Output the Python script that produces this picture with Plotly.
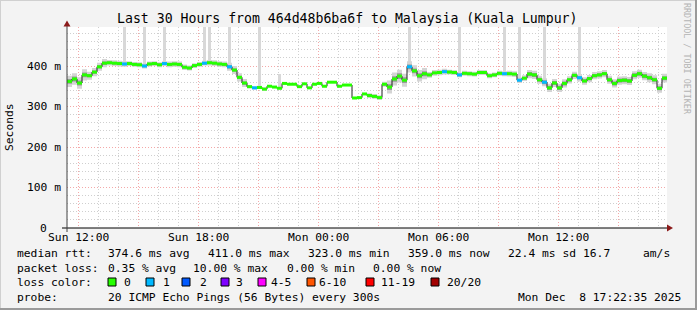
import plotly.graph_objects as go
from datetime import datetime, timedelta

TITLE = "Last 30 Hours from 464d48b6ba6f to Malaysia (Kuala Lumpur)"
START = datetime(2025, 12, 7, 11, 25)
STEP_MIN = 15
SPAN_H = 30

# median rtt per 15-minute step (ms)
median_ms = [
    362, 368, 358, 378, 376, 385, 398, 407, 408, 407,
    406, 405, 406, 404, 403, 400, 405, 406, 403, 406,
    404, 405, 404, 397, 395, 401, 404, 407, 408, 407,
    405, 404, 398, 390, 372, 358, 349, 346, 347, 343,
    350, 348, 345, 357, 355, 355, 349, 356, 346, 355,
    357, 350, 360, 360, 350, 353, 353, 321, 322, 331,
    327, 325, 322, 355, 348, 368, 375, 365, 398, 388,
    376, 381, 378, 383, 384, 386, 385, 384, 378, 382,
    381, 380, 384, 384, 376, 378, 382, 381, 381, 380,
    365, 370, 380, 378, 366, 360, 346, 358, 346, 357,
    366, 377, 371, 363, 369, 376, 378, 381, 366, 357,
    364, 365, 363, 377, 381, 375, 371, 366, 345, 370,
]

# lost pings (of 20) per step
loss_pings = [
    0, 0, 0, 0, 0, 0, 0, 0, 0, 0,
    0, 1, 0, 0, 0, 1, 0, 0, 0, 1,
    0, 0, 0, 0, 0, 0, 0, 1, 0, 0,
    0, 0, 1, 0, 0, 0, 0, 1, 0, 0,
    0, 0, 0, 0, 0, 0, 0, 0, 0, 0,
    0, 0, 0, 0, 0, 0, 0, 0, 0, 0,
    0, 0, 0, 0, 0, 0, 0, 0, 1, 0,
    0, 0, 0, 0, 0, 1, 0, 0, 1, 0,
    0, 0, 0, 0, 0, 0, 0, 1, 0, 0,
    1, 0, 0, 0, 0, 1, 0, 0, 0, 0,
    0, 0, 1, 0, 0, 0, 0, 0, 0, 0,
    0, 0, 0, 0, 0, 0, 0, 0, 0, 0,
]

# smoke half-widths per hour (ms)
smoke_outer_hourly = [14, 10, 7, 6, 6, 7, 6, 7, 10, 4,
                      1, 1, 1, 1, 1, 6, 16, 14, 7, 6,
                      6, 6, 7, 10, 10, 9, 9, 10, 10, 11]
smoke_inner_hourly = [6, 4, 3, 3, 3, 3, 3, 3, 4, 2,
                      0, 0, 0, 0, 0, 3, 7, 6, 3, 3,
                      3, 3, 3, 5, 5, 4, 4, 5, 5, 5]

# tall max-ping spikes: step index and top value (ms)
spike_idx = [11, 15, 19, 27, 28, 32, 38, 42, 68, 78, 87, 90, 95, 102]
spike_top_ms = [497, 497, 497, 497, 497, 497, 497, 380, 497, 497, 497, 497, 497, 497]

y_tickvals = [100, 200, 300, 400]
y_ticktext = ["100 m", "200 m", "300 m", "400 m"]
y_zero_label = "0"
x_tick_times = ["2025-12-07 12:00", "2025-12-07 15:00", "2025-12-07 18:00", "2025-12-07 21:00",
                "2025-12-08 00:00", "2025-12-08 03:00", "2025-12-08 06:00", "2025-12-08 09:00",
                "2025-12-08 12:00", "2025-12-08 15:00"]
x_tick_labels = ["Sun 12:00", "", "Sun 18:00", "", "Mon 00:00", "", "Mon 06:00", "", "Mon 12:00", ""]

loss_labels = ["0", "1", "2", "3", "4-5", "6-10", "11-19", "20/20"]
loss_upper = [0, 1, 2, 3, 5, 10, 19, 20]
loss_colors = ["#26ff00", "#00b8ff", "#0059ff", "#7e00ff", "#ff00ff", "#ff5500", "#ff0000", "#a10000"]

stats_rtt = ["374.6 ms avg", "411.0 ms max", "323.0 ms min", "359.0 ms now", "22.4 ms sd", "16.7", "am/s"]
stats_loss = ["0.35 % avg", "10.00 % max", "0.00 % min", "0.00 % now"]
probe_text = "20 ICMP Echo Pings (56 Bytes) every 300s"
stamp_text = "Mon Dec  8 17:22:35 2025"

# ---------------------------------------------------------------
n = len(median_ms)
edges = [START + timedelta(minutes=STEP_MIN * i) for i in range(n + 1)]
steps_per_hour = 60 // STEP_MIN
outer = [smoke_outer_hourly[i // steps_per_hour] for i in range(n)]
inner = [smoke_inner_hourly[i // steps_per_hour] for i in range(n)]

def ext(a):
    return list(a) + [a[-1]]

MONO = "DejaVu Sans Mono"
fig = go.Figure()

# spikes
spike_x = [edges[i] + timedelta(minutes=STEP_MIN / 2) for i in spike_idx]
spike_base = [median_ms[i] for i in spike_idx]
fig.add_trace(go.Bar(x=spike_x, y=[t - b for t, b in zip(spike_top_ms, spike_base)], base=spike_base,
                     width=7.5 * 60 * 1000, marker=dict(color="#d8d8d8", line=dict(width=0)),
                     hoverinfo="skip", showlegend=False))

# smoke bands
for half, col in ((outer, "#d4d4d4"), (inner, "#9a9a9a")):
    lo = [m - h for m, h in zip(median_ms, half)]
    hi = [m + h for m, h in zip(median_ms, half)]
    fig.add_trace(go.Scatter(x=edges, y=ext(lo), mode="lines", line=dict(width=0, shape="hv"),
                             hoverinfo="skip", showlegend=False))
    fig.add_trace(go.Scatter(x=edges, y=ext(hi), mode="lines", line=dict(width=0, shape="hv"),
                             fill="tonexty", fillcolor=col, hoverinfo="skip", showlegend=False))

# thin dark median line
fig.add_trace(go.Scatter(x=edges, y=ext(median_ms), mode="lines",
                         line=dict(color="#202020", width=1, shape="hv"),
                         hoverinfo="skip", showlegend=False))

# loss-coloured median segments
def bucket(v):
    for k, up in enumerate(loss_upper):
        if v <= up:
            return k
    return len(loss_upper) - 1

for k, col in enumerate(loss_colors):
    xs, ys = [], []
    for i in range(n):
        if bucket(loss_pings[i]) == k:
            xs += [edges[i], edges[i + 1], None]
            ys += [median_ms[i], median_ms[i], None]
    if xs:
        fig.add_trace(go.Scatter(x=xs, y=ys, mode="lines", line=dict(color=col, width=3),
                                 hoverinfo="skip", showlegend=False))

# ---------------------------------------------------------------
L, R, T, B = 67, 667, 27, 228
def X(p):
    return (p - L) / (R - L)
def Y(p):
    return (B - p) / (B - T)

ann = []
def txt(s, x, y, size=11.3, color="#000000", anchor="left", angle=0):
    ann.append(dict(text=s, x=X(x), y=Y(y), xref="paper", yref="paper", showarrow=False,
                    xanchor=anchor, yanchor="middle", textangle=angle, borderpad=0,
                    font=dict(family=MONO, size=size, color=color)))

txt(TITLE, 347, 18, size=13.2, anchor="center")
txt("Seconds", 10, 127, angle=-90, anchor="center")
txt("RRDTOOL / TOBI OETIKER", 687, 59, size=8.4, color="#b4b4b4", angle=90, anchor="center")
# zero label of the y axis (rrdtool pads it, so it sits left of the other labels)
ann.append(dict(text=y_zero_label, x=X(47.5), y=0, xref="paper", yref="y", showarrow=False,
                xanchor="right", yanchor="middle", borderpad=0,
                font=dict(family=MONO, size=11.3, color="#000000")))

txt("median rtt:", 16, 253)
for s, x in zip(stats_rtt, [107, 207, 307, 407, 507, 582, 642]):
    txt(s, x, 253)
txt("packet loss:", 16, 268)
for s, x in zip(stats_loss, [107, 192, 286, 372]):
    txt(s, x, 268)
txt("loss color:", 16, 282)
sw_x = [108, 146, 182, 221, 258, 307, 366, 431]
lab_x = [123, 162, 199, 235, 270, 318, 380, 446]
shapes = []
for s, c, sx, lx in zip(loss_labels, loss_colors, sw_x, lab_x):
    shapes.append(dict(type="rect", xref="paper", yref="paper", x0=X(sx), x1=X(sx + 8),
                       y0=Y(286), y1=Y(278), fillcolor=c, line=dict(color="#000000", width=1)))
    txt(s, lx, 282)
txt("probe:", 16, 297)
txt(probe_text, 107, 297)
txt(stamp_text, 682, 297, anchor="right")

# axes lines and arrows
shapes += [
    dict(type="line", xref="paper", yref="paper", x0=X(62), x1=X(669), y0=Y(228), y1=Y(228),
         line=dict(color="#000000", width=1)),
    dict(type="line", xref="paper", yref="paper", x0=X(67), x1=X(67), y0=Y(232), y1=Y(22),
         line=dict(color="#404040", width=1)),
    dict(type="path", xref="paper", yref="paper",
         path=f"M {X(673)} {Y(228)} L {X(667)} {Y(224.5)} L {X(667)} {Y(231.5)} Z",
         fillcolor="#8b1a1a", line=dict(width=0)),
    dict(type="path", xref="paper", yref="paper",
         path=f"M {X(67)} {Y(20.5)} L {X(63.5)} {Y(26.5)} L {X(70.5)} {Y(26.5)} Z",
         fillcolor="#8b1a1a", line=dict(width=0)),
    # frame
    dict(type="line", xref="paper", yref="paper", x0=X(0), x1=X(697), y0=Y(0.5), y1=Y(0.5),
         line=dict(color="#d0d0d0", width=1)),
    dict(type="line", xref="paper", yref="paper", x0=X(0.5), x1=X(0.5), y0=Y(0), y1=Y(310),
         line=dict(color="#d0d0d0", width=1)),
    dict(type="line", xref="paper", yref="paper", x0=X(0), x1=X(697), y0=Y(309), y1=Y(309),
         line=dict(color="#9a9a9a", width=2)),
    dict(type="line", xref="paper", yref="paper", x0=X(696), x1=X(696), y0=Y(0), y1=Y(310),
         line=dict(color="#9a9a9a", width=2)),
]

fig.update_layout(
    width=697, height=310,
    margin=dict(l=L, r=697 - R, t=T, b=310 - B, pad=0),
    paper_bgcolor="#f3f3f3", plot_bgcolor="#ffffff",
    showlegend=False, bargap=0,
    font=dict(family=MONO, size=11.3, color="#000000"),
    annotations=ann, shapes=shapes,
    xaxis=dict(type="date", range=[START, START + timedelta(hours=SPAN_H)],
               tickmode="array", tickvals=x_tick_times, ticktext=x_tick_labels,
               showgrid=True, gridcolor="#f4a8a8", griddash="1px,2px", gridwidth=1,
               minor=dict(dtick=3600000, tick0="2025-12-07 12:00", showgrid=True,
                          gridcolor="#cfcfcf", griddash="1px,2px", gridwidth=1),
               showline=False, zeroline=False, ticks="", ticklabelstandoff=1,
               tickfont=dict(family=MONO, size=11.3)),
    yaxis=dict(range=[0, 496.3], tickmode="array", tickvals=y_tickvals, ticktext=y_ticktext,
               showgrid=True, gridcolor="#f4a8a8", griddash="1px,2px", gridwidth=1,
               minor=dict(dtick=20, tick0=0, showgrid=True,
                          gridcolor="#cfcfcf", griddash="1px,2px", gridwidth=1),
               showline=False, zeroline=False, ticks="", ticklabelstandoff=5,
               tickfont=dict(family=MONO, size=11.3)),
)

fig.write_html("out.html")
